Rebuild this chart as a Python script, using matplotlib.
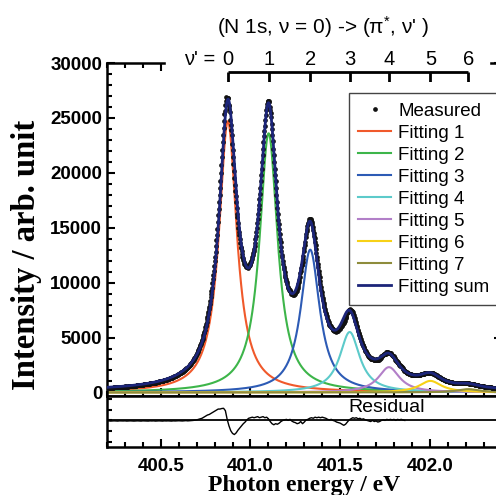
import numpy as np
import matplotlib
matplotlib.use("Agg")
import matplotlib.pyplot as plt
from matplotlib.ticker import MultipleLocator, FormatStrFormatter

plt.rcParams['font.family'] = ['Liberation Sans', 'DejaVu Sans']
plt.rcParams['mathtext.fontset'] = 'custom'
plt.rcParams['mathtext.rm'] = 'Liberation Sans'
plt.rcParams['mathtext.it'] = 'Liberation Sans'

# vibrational levels of the (pi*, v') state and the fitted peak parameters
nu_levels = [0, 1, 2, 3, 4, 5, 6]
peak_center = [400.874, 401.101, 401.333, 401.553, 401.772, 402.003, 402.215]
peak_height = [24700, 23600, 13000, 5500, 2300, 1050, 300]
peak_hwhm = [0.060, 0.061, 0.064, 0.068, 0.072, 0.075, 0.075]
background = 100

fit_labels = ["Fitting 1", "Fitting 2", "Fitting 3", "Fitting 4",
              "Fitting 5", "Fitting 6", "Fitting 7"]
fit_colors = ["#F0592B", "#3DB54A", "#2D5BB5", "#5CCACA",
              "#B27FC8", "#F7D117", "#8E8C3C"]
sum_color = "#1C2579"

# residual (measured - fit), one value per 10 meV starting at 400.20 eV
resid_start = 400.20
resid_step = 0.01
resid_values = [
    -50, -40, -60, -50, -40, -50, -60, -40, -50, -50,
    -40, -60, -50, -40, -50, -60, -50, -40, -50, -60,
    -40, -50, -50, -60, -40, -50, -40, -60, -50, -40,
    -50, -60, -40, -50, -40, -50, -60, -40, -50, -40,
    -30, -40, -50, -30, -20, -40, -30, -20, 0, 20,
    50, 100, 150, 200, 300, 400, 500, 550, 650, 750,
    850, 950, 1050, 1050, 1100, 1120, 900, 100, -500, -950,
    -1200, -1300, -1150, -900, -700, -500, -300, -150, 50, 200,
    250, 300, 250, 300, 350, 250, 300, 350, 250, 300,
    150, -100, -300, -400, -300, -350, -250, -100, 0, 50,
    100, 0, 100, -50, -150, -200, -300, -250, -100, -300,
    -150, 50, 100, 200, 250, 200, 300, 250, 300, 250,
    300, 250, 200, 100, 50, 100, 0, -50, -150, -200,
    -250, -350, -450, -350, -150, 50, 150, 250, 200, 250,
    150, 200, 100, 150, 50, 0, -50, -100, 0, -100,
    -50, -150, -100, 0, 50, 0, 100, 50, 100, 50,
    100, 0, 100, 50, 100, 50, 0,
]

x_min, x_max = 400.2, 402.4


def lorentz(e, center, height, hwhm):
    return height / (1 + ((e - center) / hwhm) ** 2)


resid_energy = resid_start + resid_step * np.arange(len(resid_values))
resid = np.array(resid_values, dtype=float)

energy = np.arange(x_min, x_max, 0.0025)
components = [lorentz(energy, c, h, w) for c, h, w in zip(peak_center, peak_height, peak_hwhm)]
fit_sum = np.sum(components, axis=0) + background

idx = np.round((energy - resid_start) / resid_step).astype(int)
measured = fit_sum.copy()
ok = idx < len(resid)
measured[ok] += resid[idx[ok]]

W, H = 496, 495
fig = plt.figure(figsize=(W / 100, H / 100), dpi=100)

left = 107 / W
width = (501.6 - 107) / W
ax = fig.add_axes([left, 1 - 395.5 / H, width, (395.5 - 63) / H])
ax_res = fig.add_axes([left, 1 - 447 / H, width, (447 - 395.5) / H], sharex=ax)

for c, lab, col in zip(components, fit_labels, fit_colors):
    ax.plot(energy, c, color=col, lw=1.5, label=lab, zorder=2)
ax.plot(energy, measured, 'o', ms=3.4, color='#111111', mec='none', label="Measured", zorder=3)
ax.plot(energy, fit_sum, color=sum_color, lw=2.0, label="Fitting sum", zorder=4)

ax.set_xlim(x_min, x_max)
ax.set_ylim(-280, 30000)
ax.yaxis.set_major_locator(MultipleLocator(5000))
ax.yaxis.set_minor_locator(MultipleLocator(1000))
ax.xaxis.set_major_locator(MultipleLocator(0.5))
ax.xaxis.set_minor_locator(MultipleLocator(0.1))
ax.tick_params(which='both', direction='in', top=True, right=True, width=1.5,
               labelbottom=False, labelsize=13.5)
ax.tick_params(which='major', length=6)
ax.tick_params(which='minor', length=3.3)
for lab in ax.get_yticklabels():
    lab.set_fontweight('bold')
for s in ax.spines.values():
    s.set_linewidth(1.8)
ax.set_ylabel("Intensity / arb. unit", family='Liberation Serif', fontweight='bold',
              fontsize=23.5, va='center')
ax.yaxis.set_label_coords(-0.203, 0.4226)

handles, labels = ax.get_legend_handles_labels()
order = [labels.index("Measured")] + [labels.index(l) for l in fit_labels] + [labels.index("Fitting sum")]
leg = ax.legend([handles[i] for i in order], [labels[i] for i in order],
                loc='upper left', bbox_to_anchor=(349 / W, 1 - 93 / H),
                bbox_transform=fig.transFigure, borderaxespad=0, numpoints=1,
                fontsize=13.5, labelspacing=0.26, handlelength=1.75, handletextpad=0.37,
                borderpad=0.5, fancybox=False, framealpha=1, edgecolor='#444444')
leg.get_frame().set_linewidth(1.0)

# residual panel
ax_res.plot(resid_energy, resid, color='black', lw=1.0)
ax_res.axhline(0, color='black', lw=1.3)
ax_res.set_ylim(-2450, 2300)
ax_res.yaxis.set_major_locator(MultipleLocator(1000))
ax_res.xaxis.set_major_locator(MultipleLocator(0.5))
ax_res.xaxis.set_minor_locator(MultipleLocator(0.1))
ax_res.tick_params(which='both', direction='in', right=True, width=1.5,
                   labelleft=False, labelsize=13.5, pad=8)
ax_res.tick_params(axis='y', length=3.5)
ax_res.tick_params(axis='x', which='major', length=6)
ax_res.tick_params(axis='x', which='minor', length=3.3)
ax_res.xaxis.set_major_formatter(FormatStrFormatter('%.1f'))
for lab in ax_res.get_xticklabels():
    lab.set_fontweight('bold')
for s in ax_res.spines.values():
    s.set_linewidth(1.8)
ax_res.text(0.709, 0.77, "Residual", transform=ax_res.transAxes, ha='center', va='center',
            fontsize=14)
ax_res.set_xlabel("Photon energy / eV", family='Liberation Serif', fontweight='bold',
                  fontsize=17, labelpad=0)

# upper v' scale drawn over the top spine
nu_ax = fig.add_axes([left, 1 - 82 / H, width, 42 / H], zorder=5)
nu_ax.set_xlim(x_min, x_max)
nu_ax.set_ylim(0, 1)
nu_ax.axis('off')
nu_ax.axvspan(400.53, 402.33, color='white', zorder=0)
line_y = 10 / 42
nu_ax.hlines(line_y, peak_center[0], peak_center[-1], color='black', lw=2, zorder=2)
nu_ax.vlines(peak_center, 0, line_y, color='black', lw=2, zorder=2)
for e, n in zip(peak_center, nu_levels):
    nu_ax.text(e, 0.53, str(n), ha='center', va='center', fontsize=14.5)
nu_ax.text(peak_center[0] - 0.072, 0.53, "ν' =", ha='right', va='center', fontsize=14.5)

fig.text(323 / W, 1 - 27 / H, "(N 1s, ν = 0) -> (π$^{*}$, ν' )", ha='center', va='center',
         fontsize=15)

fig.savefig("out.png", dpi=100)
